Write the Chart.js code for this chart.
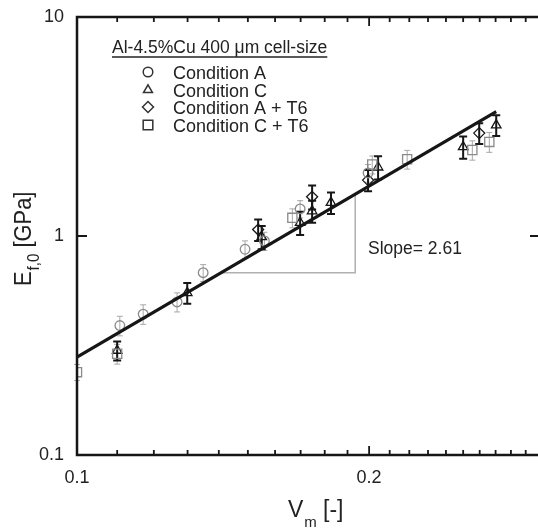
<!DOCTYPE html>
<html>
<head>
<meta charset="utf-8">
<script src="https://cdn.jsdelivr.net/npm/chart.js@4/dist/chart.umd.min.js"></script>
<style>
html,body{margin:0;padding:0;background:#fff;overflow:hidden;width:538px;height:530px;}
canvas{display:block;}
</style>
</head>
<body>
<canvas id="c" width="541" height="530"></canvas>
<script>
// ---- data ----
const condA_x = [0.1107, 0.117, 0.1268, 0.1349, 0.1490, 0.156, 0.1698, 0.1995];
const condA_y = [0.39, 0.44, 0.50, 0.68, 0.87, 0.95, 1.33, 1.94];
const condA_err = [0.04, 0.045, 0.05, 0.06, 0.08, 0.09, 0.12, 0.18];

const condC_x = [0.110, 0.1299, 0.155, 0.1698, 0.1747, 0.1827, 0.2043, 0.250, 0.2704];
const condC_y = [0.30, 0.55, 0.99, 1.15, 1.30, 1.42, 2.06, 2.55, 3.21];
const condC_err = [0.03, 0.06, 0.12, 0.14, 0.15, 0.16, 0.25, 0.30, 0.35];

const condAT6_x = [0.1537, 0.1747, 0.1995, 0.2597];
const condAT6_y = [1.07, 1.51, 1.80, 2.95];
const condAT6_err = [0.12, 0.19, 0.20, 0.32];

const condCT6_x = [0.100, 0.110, 0.1667, 0.2015, 0.2189, 0.2555, 0.2660];
const condCT6_y = [0.239, 0.29, 1.21, 2.12, 2.24, 2.47, 2.69];
const condCT6_err = [0.02, 0.03, 0.12, 0.20, 0.22, 0.25, 0.28];

const fit_x = [0.1, 0.2704];
const fit_y = [0.28, 3.70];

const slope_x = [0.1404, 0.1935, 0.1935];
const slope_y = [0.68, 0.68, 1.57];

const xTicks = [0.1, 0.2];
const xTickLabels = ['0.1', '0.2'];
const yTicks = [0.1, 1, 10];
const yTickLabels = ['0.1', '1', '10'];
const xMajor = [0.1, 0.2, 0.3];
const xMinor = [0.11,0.12,0.13,0.14,0.15,0.16,0.17,0.18,0.19,0.21,0.22,0.23,0.24,0.25,0.26,0.27,0.28,0.29];
const yMajor = [0.1, 1, 10];

const seriesNames = ['Condition A', 'Condition C', 'Condition A + T6', 'Condition C + T6'];
const legendTitle = 'Al-4.5%Cu 400 \u03bcm cell-size';
const slopeLabel = 'Slope= 2.61';

// ---- helpers ----
const GREY = '#8a8a8a', GREY_ERR = '#a8a8a8', BLACK = '#161616', TXT = '#222';
const FONT = '"Liberation Sans", Arial, sans-serif';
const pts = (xs, ys) => xs.map((x, i) => ({x, y: ys[i]}));

function series(label, xs, ys, errs, style, color, errColor, radius, errW, capW) {
  return {
    label, data: pts(xs, ys), errs, errColor, errW, capW,
    pointStyle: style, pointRadius: radius, pointHoverRadius: radius,
    borderColor: color, pointBorderColor: color, pointBackgroundColor: 'rgba(0,0,0,0)',
    pointBorderWidth: 1.3, showLine: false
  };
}

const datasets = [
  {label: 'fit', data: pts(fit_x, fit_y), showLine: true, borderColor: BLACK, borderWidth: 3.2, pointRadius: 0, order: 0},
  {label: 'slope', data: pts(slope_x, slope_y), showLine: true, borderColor: '#b0b0b0', borderWidth: 1.5, pointRadius: 0, order: 5},
  series(seriesNames[0], condA_x, condA_y, condA_err, 'circle', GREY, GREY_ERR, 4.8, 1, 6),
  series(seriesNames[3], condCT6_x, condCT6_y, condCT6_err, 'rect', GREY, GREY_ERR, 6.5, 1, 6),
  series(seriesNames[1], condC_x, condC_y, condC_err, 'triangle', BLACK, BLACK, 5.5, 2, 8),
  series(seriesNames[2], condAT6_x, condAT6_y, condAT6_err, 'rectRot', BLACK, BLACK, 5.5, 2, 8)
];

const errorBars = {
  id: 'errorBars',
  beforeDatasetsDraw(chart) {
    const ctx = chart.ctx, ys = chart.scales.y;
    chart.data.datasets.forEach((ds, di) => {
      if (!ds.errs) return;
      const meta = chart.getDatasetMeta(di);
      ctx.save();
      ctx.strokeStyle = ds.errColor; ctx.lineWidth = ds.errW;
      meta.data.forEach((el, i) => {
        const v = ds.data[i].y, e = ds.errs[i];
        const y1 = ys.getPixelForValue(v + e), y2 = ys.getPixelForValue(Math.max(v - e, 1e-6));
        const x = el.x, c = ds.capW / 2;
        ctx.beginPath();
        ctx.moveTo(x, y1); ctx.lineTo(x, y2);
        ctx.moveTo(x - c, y1); ctx.lineTo(x + c, y1);
        ctx.moveTo(x - c, y2); ctx.lineTo(x + c, y2);
        ctx.stroke();
      });
      ctx.restore();
    });
  }
};

function drawMarker(ctx, style, x, y, r) {
  Chart.helpers.drawPoint(ctx, {pointStyle: style, radius: r, borderWidth: 1.3}, x, y);
}

const decor = {
  id: 'decor',
  afterDraw(chart) {
    const ctx = chart.ctx, a = chart.chartArea, xs = chart.scales.x, ys = chart.scales.y;
    ctx.save();
    // frame
    ctx.strokeStyle = BLACK; ctx.lineWidth = 2.5;
    ctx.strokeRect(a.left, a.top, a.right - a.left, a.bottom - a.top);
    // inward ticks
    ctx.lineWidth = 1.8;
    ctx.beginPath();
    const tx = (vals, len) => vals.forEach(v => {
      const p = xs.getPixelForValue(v);
      ctx.moveTo(p, a.bottom); ctx.lineTo(p, a.bottom - len);
      ctx.moveTo(p, a.top); ctx.lineTo(p, a.top + len);
    });
    tx(xMajor, 9); tx(xMinor, 5);
    yMajor.forEach(v => {
      const p = ys.getPixelForValue(v);
      ctx.moveTo(a.left, p); ctx.lineTo(a.left + 10, p);
      ctx.moveTo(a.right, p); ctx.lineTo(a.right - 10, p);
    });
    ctx.stroke();

    // legend
    ctx.fillStyle = TXT;
    ctx.textBaseline = 'alphabetic'; ctx.textAlign = 'left';
    ctx.font = '17.5px ' + FONT;
    ctx.fillText(legendTitle, 112, 53);
    const tw = ctx.measureText(legendTitle).width;
    ctx.strokeStyle = TXT; ctx.lineWidth = 1.5;
    ctx.beginPath(); ctx.moveTo(112, 57); ctx.lineTo(112 + tw, 57); ctx.stroke();
    const legStyles = ['circle', 'triangle', 'rectRot', 'rect'];
    const legR = [4.8, 5.2, 5.5, 6.8];
    const rowY = [72, 90, 107, 125];
    ctx.font = '18px ' + FONT;
    legStyles.forEach((s, i) => {
      ctx.strokeStyle = '#333'; ctx.fillStyle = 'rgba(0,0,0,0)';
      drawMarker(ctx, s, 148, rowY[i], legR[i]);
      ctx.fillStyle = TXT;
      ctx.fillText(seriesNames[i], 173, rowY[i] + 6.5);
    });

    // slope label
    ctx.fillStyle = TXT;
    ctx.font = '17.5px ' + FONT;
    ctx.fillText(slopeLabel, 368, 254);

    // x title: V_m [-]
    ctx.font = '23px ' + FONT;
    ctx.fillText('V', 288, 517);
    const vw = ctx.measureText('V').width;
    ctx.font = '15px ' + FONT;
    ctx.fillText('m', 288 + vw + 1, 527);
    ctx.font = '23px ' + FONT;
    ctx.fillText('[-]', 323, 517);

    // y title: E_f,0 [GPa] rotated
    ctx.translate(31, 286);
    ctx.rotate(-Math.PI / 2);
    ctx.scale(0.95, 1);
    ctx.font = '23px ' + FONT;
    ctx.fillText('E', 0, 0);
    let off = ctx.measureText('E').width;
    ctx.font = '16px ' + FONT;
    ctx.fillText('f,0', off + 1, 8);
    off += ctx.measureText('f,0').width + 1;
    ctx.font = '23px ' + FONT;
    ctx.fillText(' [GPa]', off, 0);
    ctx.restore();
  }
};

new Chart(document.getElementById('c'), {
  type: 'scatter',
  data: {datasets},
  options: {
    responsive: false, animation: false, devicePixelRatio: 1,
    layout: {autoPadding: false, padding: {left: 0, right: 1, top: 17, bottom: 0}},
    plugins: {legend: {display: false}, tooltip: {enabled: false}},
    scales: {
      x: {
        type: 'logarithmic', min: 0.1, max: 0.3,
        afterFit(s) { s.height = 75; s.paddingRight = 0; s.paddingLeft = 0; },
        afterBuildTicks(s) { s.ticks = xTicks.map(v => ({value: v})); },
        ticks: {callback: (v, i) => xTickLabels[i], font: {family: FONT, size: 18}, color: TXT, padding: 12, maxRotation: 0, autoSkip: false},
        grid: {display: false, drawTicks: false}, border: {display: false}
      },
      y: {
        type: 'logarithmic', min: 0.1, max: 10,
        afterFit(s) { s.width = 77; s.paddingTop = 0; s.paddingBottom = 0; },
        afterBuildTicks(s) { s.ticks = yTicks.map(v => ({value: v})); },
        ticks: {callback: (v, i) => yTickLabels[i], font: {family: FONT, size: 18}, color: TXT, padding: 13, autoSkip: false},
        grid: {display: false, drawTicks: false}, border: {display: false}
      }
    }
  },
  plugins: [errorBars, decor]
});
</script>
</body>
</html>
